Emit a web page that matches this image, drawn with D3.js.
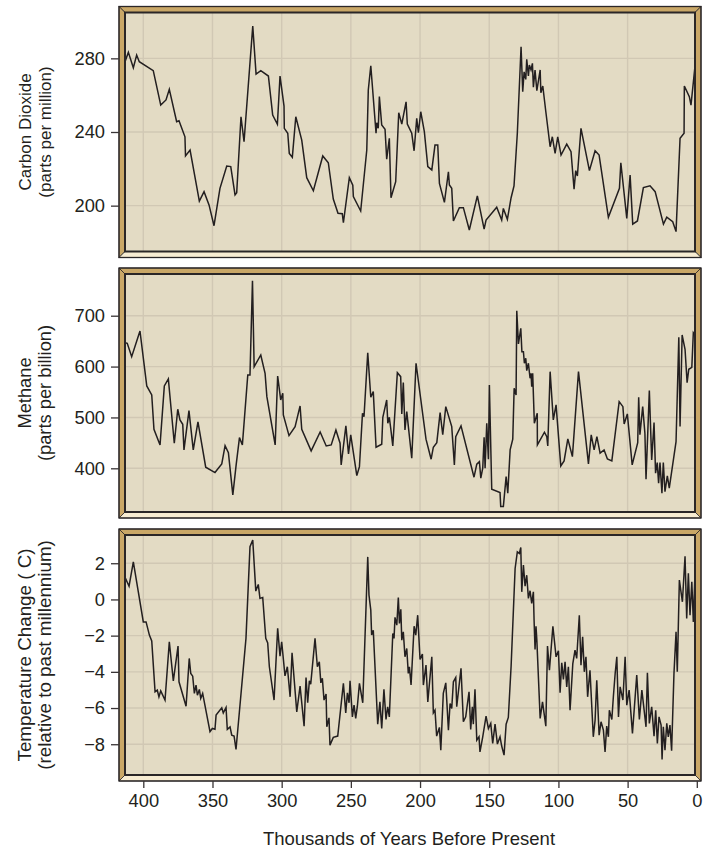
<!DOCTYPE html>
<html><head><meta charset="utf-8">
<script src="https://cdn.jsdelivr.net/npm/d3@7"></script>
<style>body{margin:0;background:#fff}svg{display:block}text{font-family:"Liberation Sans",Arial,Helvetica,sans-serif;fill:#231f20}</style>
</head><body><div id="chart"></div>
<script>
// ---------- data (thousands of years before present) ----------
const co2Age = [413.2,410.8,407.2,404.8,402.9,392.8,387.4,383.6,381.2,375.9,374.2,369.9,369.5,366.2,359.5,356.1,352.5,348.9,344.6,339.7,336.8,333.7,332.5,329.4,327.2,320.9,318.5,315.1,309.6,306.5,303.1,301.2,298.3,298.1,295.6,294.5,292.3,289.8,285.5,281.9,277.1,270.3,266.3,262.7,259.3,256.2,255.4,251.1,248.6,248.2,242.9,238.5,237.4,235.6,231.8,231.3,230.2,229.4,227.7,225.3,224.1,222.2,221.0,217.6,215.4,213.2,210.1,209.2,206.0,204.3,202.4,201.2,199.5,196.9,194.4,191.5,189.2,187.2,186.0,182.4,179.5,178.8,177.1,175.9,171.6,168.7,164.4,158.6,153.7,152.3,144.6,141.0,139.8,136.9,134.2,132.1,129.7,127.0,125.8,124.8,123.6,122.9,121.7,121.0,119.8,118.8,118.1,116.9,115.6,113.2,112.7,111.3,109.1,106.0,104.4,102.4,100.5,98.1,94.0,90.9,88.7,87.5,86.3,83.7,77.6,73.5,70.6,63.9,55.9,54.9,50.6,48.2,46.3,42.9,38.6,33.8,30.1,24.1,21.7,17.4,15.0,12.1,9.2,9.0,5.4,4.2,1.3];
const co2Value = [278.2,283.3,274.9,281.8,278.2,273.3,254.6,257.4,263.2,245.6,246.1,237.4,227.0,230.2,202.5,207.6,200.4,189.1,209.4,221.5,221.2,205.8,207.0,248.3,234.7,297.5,271.5,273.3,270.4,249.2,244.2,270.4,254.1,242.0,239.3,228.4,226.3,248.3,235.6,215.2,208.1,227.0,223.3,203.6,195.9,195.6,190.7,215.2,211.1,204.9,197.1,230.2,262.8,276.0,239.3,245.0,242.0,259.2,243.8,241.5,225.2,236.6,204.3,213.0,250.5,244.3,256.4,244.3,239.3,229.8,247.4,239.6,251.0,240.2,221.2,219.4,232.9,232.9,212.1,201.8,218.4,211.2,209.4,191.7,198.9,198.9,186.8,205.3,187.2,192.2,199.1,192.2,198.5,192.6,204.3,210.7,239.3,286.3,261.9,272.7,268.6,279.5,270.4,276.4,273.7,277.3,264.3,273.7,262.4,273.7,261.3,265.0,251.0,232.0,237.4,228.4,237.4,227.5,233.4,229.3,208.9,219.0,216.1,242.0,219.0,229.8,227.5,193.7,209.4,223.3,193.1,216.6,190.0,191.7,209.8,210.8,207.6,190.0,193.7,191.3,185.9,236.6,239.3,265.0,259.2,254.6,275.8];

const ch4Age = [413.2,411.6,408.4,402.4,397.5,393.9,392.3,387.9,384.8,381.9,377.6,375.1,373.5,371.5,370.6,367.0,363.9,360.5,354.9,348.2,343.3,340.9,338.5,335.3,332.9,330.5,328.4,324.5,322.9,321.1,319.9,315.1,312.0,310.7,304.7,302.9,300.7,299.2,298.8,294.7,290.3,286.7,285.5,278.7,272.2,267.8,264.2,260.8,257.8,257.0,253.6,251.7,250.1,245.7,243.8,241.6,240.5,237.8,235.6,233.8,231.8,227.7,226.9,224.1,223.3,222.2,221.2,219.7,216.4,214.0,213.2,212.1,210.9,209.6,206.0,202.9,195.7,192.0,190.4,187.9,185.5,183.6,181.4,177.1,175.2,174.2,170.4,161.0,159.0,157.1,156.1,154.7,153.7,153.0,151.8,150.6,149.9,148.2,142.2,141.7,139.8,137.8,136.6,134.9,133.0,132.0,130.6,130.1,128.9,127.2,126.4,125.3,124.6,123.6,122.9,121.7,120.5,119.8,119.3,118.6,117.4,115.3,115.2,110.1,108.4,107.7,106.0,103.7,101.7,98.3,95.9,93.2,89.9,85.5,78.3,76.3,74.2,72.2,69.9,67.0,64.6,61.4,56.1,53.4,52.5,50.2,46.7,42.7,42.0,41.1,39.1,37.5,36.7,34.3,32.6,30.9,29.8,28.6,27.6,26.6,25.2,24.2,23.0,21.3,19.9,15.0,13.0,12.1,10.6,8.5,7.0,5.8,3.6,2.5,1.3];
const ch4Value = [647.0,645.8,619.5,669.9,561.9,544.2,476.8,445.9,561.9,575.6,449.3,516.1,495.1,486.6,436.2,513.4,436.2,491.2,402.2,391.6,408.7,444.6,430.9,347.7,406.7,460.3,446.0,583.5,583.5,768.8,599.8,622.8,586.8,540.9,446.0,581.5,534.4,547.5,504.9,464.3,482.0,522.6,476.8,434.2,471.5,444.0,446.0,475.4,449.3,406.7,483.3,428.3,465.9,385.7,403.3,508.3,501.6,627.3,539.7,550.7,441.5,447.3,500.4,534.4,488.6,500.4,478.8,444.0,588.0,580.2,506.9,568.4,475.4,511.4,419.8,606.5,457.2,417.9,441.5,450.5,509.4,465.9,521.2,482.0,406.7,462.3,483.3,382.5,408.1,413.2,380.6,400.2,461.1,400.2,488.6,417.9,563.9,358.9,352.2,324.7,324.7,383.7,351.1,436.2,457.2,557.4,544.2,709.8,644.4,675.2,629.3,629.3,606.5,616.3,591.9,606.5,577.0,586.8,560.5,586.8,488.6,508.3,446.0,470.9,462.3,444.0,590.0,495.1,524.6,404.7,414.5,457.8,423.0,590.0,408.7,465.9,436.2,462.3,429.7,436.2,418.5,414.5,531.0,521.2,487.2,506.9,406.7,450.5,539.7,465.9,521.2,468.9,378.6,552.7,416.5,489.8,390.4,411.2,370.7,411.2,351.1,411.2,354.2,385.1,360.9,452.5,657.6,482.0,662.1,634.0,568.4,594.7,598.6,666.6,662.1];

const tempAge = [413.2,410.3,407.2,403.6,400.0,398.0,395.6,393.9,391.5,389.9,388.7,387.4,384.3,381.2,378.3,374.9,374.2,369.1,366.8,365.7,364.3,363.1,361.9,360.9,359.5,358.5,357.1,351.8,350.1,348.2,347.4,343.3,342.2,340.2,339.3,337.3,336.1,334.4,333.0,325.8,322.9,320.9,318.7,316.9,315.7,313.7,311.5,310.1,308.9,305.5,302.9,301.2,300.0,297.6,295.9,293.9,292.5,289.1,286.7,283.8,282.4,281.2,280.0,279.0,275.9,274.2,272.8,271.7,270.6,269.4,267.9,267.4,265.8,265.1,262.7,259.5,255.4,253.7,252.5,251.3,250.6,248.9,247.7,246.5,245.3,243.8,241.4,237.8,236.9,235.6,235.0,233.8,230.6,229.0,227.7,226.1,224.6,223.4,222.2,219.7,218.8,218.1,216.8,215.7,214.9,213.9,213.2,212.1,210.9,209.6,208.5,207.7,206.5,204.3,203.1,201.7,200.0,198.3,197.6,195.7,194.4,191.5,190.4,189.2,188.0,186.0,185.0,183.2,181.4,179.5,178.3,177.1,175.9,174.2,173.5,170.4,168.7,167.0,164.6,163.4,162.2,161.5,160.3,159.0,157.4,156.7,154.7,152.3,150.6,148.9,147.5,145.8,144.1,142.2,141.0,139.3,137.8,136.2,134.2,131.3,129.7,128.2,127.2,126.5,125.3,124.1,122.9,121.7,120.5,119.3,118.1,117.6,116.9,116.2,115.6,113.2,111.5,109.1,107.9,106.5,104.0,101.7,100.0,98.8,97.6,96.4,95.2,94.0,92.8,91.6,89.6,88.0,86.8,84.9,83.7,82.5,81.3,80.1,78.9,77.2,74.8,73.5,72.3,70.6,69.2,67.5,66.3,65.1,63.9,63.2,61.4,60.3,59.0,57.8,56.6,55.4,53.4,51.8,50.6,48.9,46.5,43.4,41.5,39.7,36.7,35.7,34.3,32.6,30.9,29.7,28.5,27.3,25.8,25.1,24.2,23.0,21.7,20.6,19.4,18.2,16.5,15.0,14.1,12.6,10.4,8.5,7.3,6.1,4.9,3.6,2.5,1.3];
const tempValue = [1.22,0.73,2.08,0.42,-1.24,-1.24,-1.97,-2.29,-5.10,-5.01,-5.38,-5.05,-5.56,-2.34,-4.50,-2.58,-4.55,-5.90,-3.26,-4.09,-4.24,-5.19,-4.73,-5.29,-4.97,-5.47,-5.19,-7.31,-7.13,-7.17,-6.39,-5.99,-6.27,-5.97,-7.18,-7.04,-7.50,-7.55,-8.29,-2.15,2.91,3.28,0.46,0.83,0.06,0.11,-2.15,-2.40,-3.72,-5.56,-1.60,-3.13,-2.34,-4.22,-3.72,-5.38,-2.95,-6.21,-4.79,-7.00,-4.31,-5.71,-4.50,-4.68,-2.15,-3.72,-3.45,-4.61,-4.36,-5.56,-5.23,-7.04,-6.54,-8.05,-7.62,-7.55,-4.64,-6.27,-5.16,-5.71,-4.50,-6.49,-5.84,-6.57,-5.90,-4.64,-5.71,2.35,0.24,-0.59,-1.97,-1.70,-6.89,-5.66,-7.13,-4.97,-6.63,-5.93,-6.49,-1.88,-2.15,-0.99,-1.42,0.11,-1.33,-0.55,-2.25,-1.79,-3.17,-2.71,-4.09,-3.72,-4.73,-1.48,-1.97,-0.87,-3.31,-3.02,-4.73,-3.63,-5.66,-3.17,-6.27,-6.12,-7.55,-7.07,-8.33,-5.19,-4.61,-7.22,-5.75,-6.02,-4.55,-4.31,-5.93,-3.81,-6.76,-6.49,-5.10,-7.18,-5.93,-6.89,-4.97,-7.77,-7.59,-8.42,-7.59,-6.45,-7.13,-6.85,-7.96,-6.89,-7.99,-7.59,-8.10,-8.60,-6.89,-6.52,-3.69,1.71,2.63,2.54,2.87,0.42,1.90,0.73,1.34,0.06,0.48,-0.22,0.42,-1.14,-2.76,-1.48,-2.25,-6.57,-5.66,-7.00,-2.58,-3.91,-1.48,-3.17,-2.84,-5.16,-3.50,-4.42,-3.45,-4.83,-3.72,-6.12,-3.54,-2.80,-3.26,-0.87,-3.63,-2.07,-4.00,-3.17,-5.38,-3.91,-7.59,-6.67,-4.46,-7.50,-6.76,-7.22,-8.42,-7.00,-7.59,-6.12,-6.63,-5.38,-4.09,-3.17,-6.49,-4.83,-5.56,-3.17,-5.84,-5.01,-7.40,-4.18,-6.63,-5.01,-7.04,-4.05,-6.85,-5.93,-7.55,-6.12,-7.96,-6.49,-6.94,-8.84,-7.04,-8.33,-6.85,-7.59,-6.94,-8.36,-4.09,-1.79,-4.00,1.07,-0.13,2.39,-1.05,1.44,-0.87,0.97,-1.24,1.44];

const xTicks = [400,350,300,250,200,150,100,50,0];
const co2Ticks = [200,240,280];
const ch4Ticks = [400,500,600,700];
const tempTicks = [-8,-6,-4,-2,0,2];
const co2Label = ["Carbon Dioxide","(parts per million)"];
const ch4Label = ["Methane","(parts per billion)"];
const tempLabel = ["Temperature Change ( C)","(relative to past millennium)"];
const xTitle = "Thousands of Years Before Present";

// ---------- layout ----------
const W = 708, H = 850;
const left = 125, right = 695, band = 6;
const BG = "#e3dbc4", GRID = "#d1c8b4", GOLD = "#c9a767", CREAM = "#f7ecd2", EDGE = "#2a2627", LINE = "#231f20";

const svg = d3.select("#chart").append("svg").attr("width", W).attr("height", H);
svg.append("rect").attr("width", W).attr("height", H).attr("fill", "#fff");

const x = d3.scaleLinear().domain([400, 0]).range([143.3, 696.8]);

const panels = [
  {age: co2Age, val: co2Value, ticks: co2Ticks, label: co2Label, top: 12.5, bottom: 251.5, domain: [175.1, 304.9], fs: 17},
  {age: ch4Age, val: ch4Value, ticks: ch4Ticks, label: ch4Label, top: 274, bottom: 512, domain: [314.1, 782.0], fs: 18.3},
  {age: tempAge, val: tempValue, ticks: tempTicks, label: tempLabel, top: 535, bottom: 775, domain: [-9.70, 3.56], fs: 18.8}
];

panels.forEach((p, i) => {
  const y = d3.scaleLinear().domain(p.domain).range([p.bottom, p.top]);
  const g = svg.append("g");
  const clipId = "clip" + i;
  svg.append("clipPath").attr("id", clipId).append("rect")
    .attr("x", left).attr("y", p.top).attr("width", right - left).attr("height", p.bottom - p.top);

  g.append("rect").attr("x", left).attr("y", p.top).attr("width", right - left).attr("height", p.bottom - p.top).attr("fill", BG);

  const grid = g.append("g").attr("clip-path", `url(#${clipId})`);
  grid.selectAll("line.v").data(xTicks).join("line")
    .attr("x1", d => x(d)).attr("x2", d => x(d)).attr("y1", p.top).attr("y2", p.bottom)
    .attr("stroke", GRID).attr("stroke-width", 1.4);
  grid.selectAll("line.h").data(p.ticks).join("line")
    .attr("x1", left).attr("x2", right).attr("y1", d => y(d)).attr("y2", d => y(d))
    .attr("stroke", GRID).attr("stroke-width", 1.4);

  const pts = p.age.map((a, k) => [a, p.val[k]]);
  g.append("path").datum(pts).attr("clip-path", `url(#${clipId})`)
    .attr("fill", "none").attr("stroke", LINE).attr("stroke-width", 1.5).attr("stroke-linejoin", "miter")
    .attr("d", d3.line().x(d => x(d[0])).y(d => y(d[1])));

  // beveled frame
  const x0 = left, x1 = right, y0 = p.top, y1 = p.bottom, b = band;
  const polys = [
    {pts: [[x0-b,y0-b],[x1+b,y0-b],[x1,y0],[x0,y0]], fill: GOLD},
    {pts: [[x0-b,y0-b],[x0,y0],[x0,y1],[x0-b,y1+b]], fill: GOLD},
    {pts: [[x1+b,y0-b],[x1+b,y1+b],[x1,y1],[x1,y0]], fill: GOLD},
    {pts: [[x0-b,y1+b],[x0,y1],[x1,y1],[x1+b,y1+b]], fill: CREAM}
  ];
  g.selectAll("polygon").data(polys).join("polygon")
    .attr("points", d => d.pts.map(q => q.join(",")).join(" "))
    .attr("fill", d => d.fill).attr("stroke", EDGE).attr("stroke-width", 0.8).attr("stroke-linejoin", "round");
  g.append("rect").attr("x", x0-b).attr("y", y0-b).attr("width", x1-x0+2*b).attr("height", y1-y0+2*b)
    .attr("fill", "none").attr("stroke", EDGE).attr("stroke-width", 1.3);
  g.append("rect").attr("x", x0).attr("y", y0).attr("width", x1-x0).attr("height", y1-y0)
    .attr("fill", "none").attr("stroke", EDGE).attr("stroke-width", 2);

  // y axis
  const ax = svg.append("g").attr("transform", `translate(${x0-b},0)`)
    .call(d3.axisLeft(y).tickValues(p.ticks).tickSize(8).tickPadding(6).tickFormat(d => d < 0 ? "\u2212" + Math.abs(d) : d));
  ax.select(".domain").remove();
  ax.selectAll(".tick line").attr("stroke", "#3a3536").attr("stroke-width", 1.3);
  ax.selectAll("text").attr("font-size", 18.3).attr("fill", "#231f20").attr("font-family", "Liberation Sans, Arial, sans-serif");

  // y title
  const cy = (y0 + y1) / 2;
  const t = svg.append("text").attr("transform", `translate(31,${cy}) rotate(-90)`)
    .attr("text-anchor", "middle").attr("font-size", p.fs);
  t.append("tspan").attr("x", 0).attr("y", 0).text(p.label[0]);
  t.append("tspan").attr("x", 0).attr("y", 20).text(p.label[1]);

  if (i === 2) {
    const xa = svg.append("g").attr("transform", `translate(0,${y1+b})`)
      .call(d3.axisBottom(x).tickValues(xTicks).tickSize(7).tickPadding(6));
    xa.select(".domain").remove();
    xa.selectAll(".tick line").attr("stroke", "#3a3536").attr("stroke-width", 1.3);
    xa.selectAll("text").attr("font-size", 18.3).attr("fill", "#231f20").attr("font-family", "Liberation Sans, Arial, sans-serif");
  }
});

svg.append("text").attr("x", 409).attr("y", 845).attr("text-anchor", "middle").attr("font-size", 18.5).text(xTitle);
</script></body></html>
